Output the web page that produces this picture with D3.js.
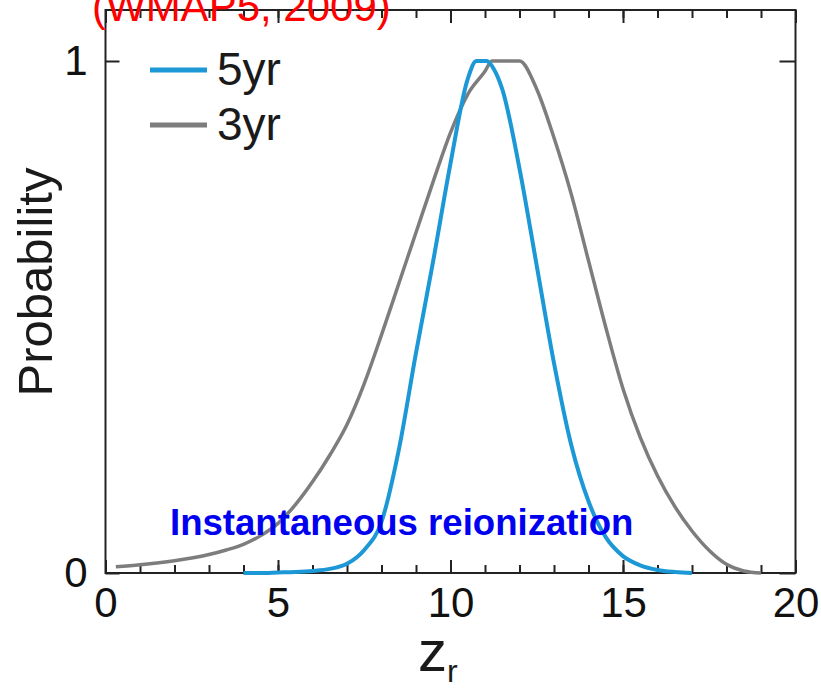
<!DOCTYPE html>
<html>
<head>
<meta charset="utf-8">
<script src="https://cdn.jsdelivr.net/npm/d3@7"></script>
<style>
  body { margin: 0; background: #fff; }
  svg { display: block; font-family: "Liberation Sans", Arial, Helvetica, sans-serif; }
  .axis path { display: none; }
  .axis line { stroke: #222; stroke-width: 2; }
  .axis text { font-size: 42px; fill: #111; font-family: "Liberation Sans", Arial, sans-serif; }
</style>
</head>
<body>
<svg id="chart"></svg>
<script>
// redshift of reionization, probability (normalised to peak = 1)
const z5yr = [4, 4.5, 5, 5.5, 6, 6.5, 7, 7.5, 8, 8.5, 9, 9.5, 10, 10.5, 10.75, 11.05, 11.25, 11.5, 12, 12.5, 13, 13.5, 14, 14.5, 15, 15.5, 16, 16.5, 17];
const p5yr = [0, 0, 0.001, 0.002, 0.004, 0.008, 0.018, 0.045, 0.1, 0.24, 0.43, 0.61, 0.8, 0.965, 1, 1, 0.985, 0.945, 0.79, 0.6, 0.41, 0.25, 0.14, 0.07, 0.033, 0.015, 0.006, 0.002, 0];

const z3yr = [0.3, 1, 2, 3, 3.5, 4, 4.5, 5, 5.5, 6, 6.5, 7, 7.5, 8, 8.5, 9, 9.5, 10, 10.5, 11, 11.2, 12, 12.5, 13, 13.5, 14, 14.5, 15, 15.5, 16, 16.5, 17, 17.5, 18, 18.5, 19];
const p3yr = [0.012, 0.016, 0.024, 0.036, 0.045, 0.056, 0.073, 0.097, 0.133, 0.178, 0.23, 0.29, 0.37, 0.465, 0.565, 0.665, 0.765, 0.86, 0.935, 0.98, 1, 1, 0.945, 0.85, 0.74, 0.61, 0.48, 0.36, 0.265, 0.19, 0.13, 0.082, 0.044, 0.017, 0.004, 0];

const xMajorTicks = [0, 5, 10, 15, 20];
const xMinorTicks = d3.range(0, 21);
const yTicks = [0, 1];
const seriesNames = ["5yr", "3yr"];
const seriesColors = ["#1b98d5", "#7d7d7d"];

const W = 821, H = 691;
const margin = {top: 10, right: 25.5, bottom: 118, left: 105.5};
const width = W - margin.left - margin.right;
const height = H - margin.top - margin.bottom;

const svg = d3.select("#chart")
    .attr("width", W)
    .attr("height", H);

const g = svg.append("g")
    .attr("transform", "translate(" + margin.left + "," + margin.top + ")");

const x = d3.scaleLinear().domain([0, 20]).range([0, width]);
const y = d3.scaleLinear().domain([0, 1]).range([height, 51]);

// minor ticks bottom + top
g.append("g").attr("class", "axis")
    .attr("transform", "translate(0," + height + ")")
    .call(d3.axisBottom(x).tickValues(xMinorTicks).tickSize(-8).tickFormat(""));
g.append("g").attr("class", "axis")
    .call(d3.axisTop(x).tickValues(xMinorTicks).tickSize(-8).tickFormat(""));

// major ticks with labels
g.append("g").attr("class", "axis")
    .attr("transform", "translate(0," + height + ")")
    .call(d3.axisBottom(x).tickValues(xMajorTicks).tickSize(-13).tickPadding(14).tickFormat(d3.format("d")));
g.append("g").attr("class", "axis")
    .call(d3.axisTop(x).tickValues(xMajorTicks).tickSize(-13).tickFormat(""));

g.append("g").attr("class", "axis")
    .call(d3.axisLeft(y).tickValues(yTicks).tickSize(-14).tickPadding(18).tickFormat(d3.format("d")));
g.append("g").attr("class", "axis")
    .attr("transform", "translate(" + width + ",0)")
    .call(d3.axisRight(y).tickValues(yTicks).tickSize(-16).tickFormat(""));

// frame
g.append("rect")
    .attr("width", width)
    .attr("height", height)
    .attr("fill", "none")
    .attr("stroke", "#222")
    .attr("stroke-width", 2);

const line = d3.line()
    .x(d => x(d[0]))
    .y(d => y(d[1]))
    .curve(d3.curveMonotoneX);

const series = [d3.zip(z5yr, p5yr), d3.zip(z3yr, p3yr)];

// gray first so blue is on top
g.append("path")
    .datum(series[1])
    .attr("fill", "none")
    .attr("stroke", seriesColors[1])
    .attr("stroke-width", 3.5)
    .attr("d", line);

g.append("path")
    .datum(series[0])
    .attr("fill", "none")
    .attr("stroke", seriesColors[0])
    .attr("stroke-width", 4)
    .attr("d", line);

// legend
const legend = svg.append("g");
seriesNames.forEach(function(name, i) {
    const ly = 70 + i * 55;
    legend.append("line")
        .attr("x1", 150).attr("x2", 207)
        .attr("y1", ly).attr("y2", ly)
        .attr("stroke", seriesColors[i])
        .attr("stroke-width", 5);
    legend.append("text")
        .attr("x", 217)
        .attr("y", ly + 15)
        .attr("font-size", 46)
        .attr("fill", "#1a1a1a")
        .text(name);
});

// annotation
svg.append("text")
    .attr("x", 170)
    .attr("y", 535)
    .attr("font-size", 36.6)
    .attr("font-weight", "bold")
    .attr("fill", "#0000f0")
    .text("Instantaneous reionization");

// title, cut off at top as in the source figure
svg.append("text")
    .attr("x", 92)
    .attr("y", 21)
    .attr("font-size", 42)
    .attr("fill", "#ff0000")
    .text("(WMAP5, 2009)");

// axis labels
svg.append("text")
    .attr("transform", "translate(52,282) rotate(-90)")
    .attr("text-anchor", "middle")
    .attr("font-size", 49)
    .attr("fill", "#1a1a1a")
    .text("Probability");

const xl = svg.append("text")
    .attr("x", 418)
    .attr("y", 671)
    .attr("font-size", 58)
    .attr("fill", "#1a1a1a");
xl.append("tspan").text("z");
xl.append("tspan").attr("font-size", 32).attr("dy", 11).text("r");
</script>
</body>
</html>
